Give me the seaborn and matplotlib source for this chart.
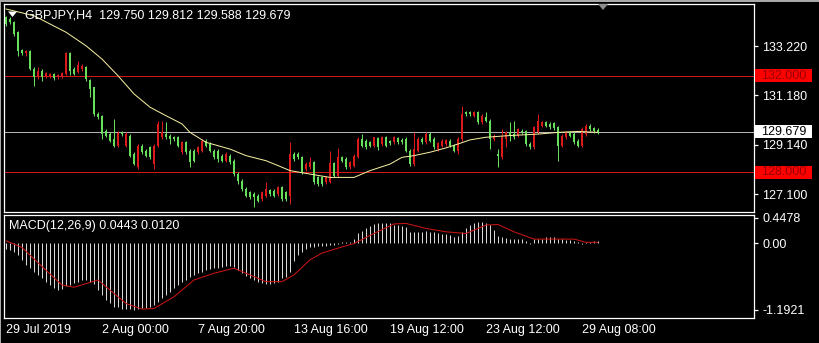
import matplotlib
matplotlib.use("Agg")
import matplotlib.pyplot as plt
import matplotlib.transforms as mtrans
from matplotlib.patches import Rectangle, Polygon
import numpy as np
import pandas as pd
import seaborn as sns

# ---------------- data ----------------
symbol_header = "GBPJPY,H4  129.750 129.812 129.588 129.679"
macd_header = "MACD(12,26,9) 0.0443 0.0120"

opens = [134.41,134.34,134.20,133.79,133.06,132.92,133.03,132.27,131.99,132.20,
         131.98,131.98,132.06,131.93,131.95,132.06,132.92,132.27,132.13,132.27,
         132.37,131.82,131.51,130.41,130.34,129.72,129.58,129.38,129.10,129.68,
         129.10,129.52,128.76,128.21,129.10,128.90,129.03,128.34,129.10,129.45,
         129.58,129.52,129.47,129.45,128.83,129.24,128.90,128.90,128.83,128.90,
         129.31,129.17,128.90,128.90,128.69,128.48,128.69,128.48,127.93,127.66,
         127.31,127.17,127.10,127.04,126.90,127.04,127.27,127.24,127.10,127.38,
         127.17,127.04,128.76,128.76,128.62,128.14,128.21,128.41,127.79,127.79,
         127.59,127.59,128.37,127.86,128.62,128.55,128.21,128.28,128.62,129.38,
         129.31,129.24,129.10,129.42,129.17,129.45,129.28,129.24,129.42,129.35,
         129.38,128.90,128.34,128.90,129.38,129.24,129.58,129.38,128.96,129.10,
         129.17,129.31,129.10,128.90,129.38,130.48,130.48,130.34,130.48,130.07,
         130.27,130.14,129.38,128.76,128.62,129.38,129.65,129.58,129.52,129.72,
         129.69,129.17,129.03,129.65,129.93,130.07,130.00,130.03,129.86,129.10,
         129.45,129.65,129.58,129.31,129.10,129.58,129.93,129.83,129.750]
highs = [134.47,134.41,134.27,133.85,133.10,133.07,133.06,132.34,132.37,132.27,
         132.13,132.12,132.12,132.06,132.15,132.96,132.96,132.34,132.59,132.48,
         132.41,131.86,131.54,130.48,130.38,129.79,129.65,130.20,129.72,129.72,
         129.65,129.58,128.83,129.17,129.17,128.96,129.10,129.17,130.14,130.14,
         130.07,129.58,129.52,129.52,129.31,129.31,128.96,128.96,129.10,129.38,
         129.38,129.24,128.96,128.96,128.76,128.83,128.76,128.55,128.00,127.73,
         127.38,127.24,127.17,127.10,127.24,127.59,127.31,127.31,127.45,127.45,
         127.24,129.24,128.83,128.83,128.69,128.41,128.62,128.48,127.86,127.86,
         127.86,128.90,128.41,129.01,128.69,128.62,128.48,128.76,129.45,129.58,
         129.38,129.31,129.47,129.47,129.52,129.52,129.34,129.52,129.47,129.41,
         129.45,128.96,129.65,129.45,129.45,129.65,129.65,129.45,129.24,129.38,
         129.38,129.38,129.17,129.45,130.76,130.55,130.55,130.55,130.55,130.41,
         130.48,130.20,129.58,128.96,129.79,129.72,130.07,130.14,129.83,129.79,
         129.75,129.24,129.93,130.41,130.14,130.14,130.07,130.07,129.93,129.58,
         129.72,129.72,129.65,129.38,129.86,130.00,130.00,129.89,129.812]
lows = [134.06,134.13,133.65,132.82,132.86,132.82,132.23,131.58,131.86,131.79,
        131.90,131.90,131.82,131.87,131.90,132.04,132.04,132.01,132.09,132.20,
        131.79,131.10,130.34,130.20,129.38,129.45,129.24,129.06,129.06,129.52,
        129.06,128.62,128.32,128.14,128.76,128.62,128.55,128.14,129.06,129.38,
        129.38,129.17,129.31,129.03,128.76,128.76,128.21,128.41,128.76,128.83,
        129.03,128.83,128.55,128.41,128.41,128.41,128.34,127.86,127.52,127.24,
        126.97,126.90,126.55,126.76,126.83,126.97,127.04,126.97,127.04,126.83,
        126.83,126.69,128.48,128.55,127.93,128.07,128.14,127.52,127.45,127.45,
        127.52,127.55,127.79,127.82,128.41,128.14,128.14,128.23,128.59,129.03,
        128.96,129.03,129.06,128.92,129.10,129.03,129.14,129.17,129.17,129.17,
        128.83,128.28,128.28,128.83,129.17,129.17,129.24,128.96,128.90,129.03,
        129.10,129.03,128.83,128.76,129.31,130.34,130.34,130.27,130.00,130.00,
        130.07,128.96,129.31,128.21,128.55,129.03,129.31,129.38,129.47,129.58,
        129.10,128.96,128.96,129.58,129.86,129.86,129.79,129.75,128.48,129.03,
        129.38,129.45,129.17,129.03,129.03,129.52,129.72,129.64,129.588]
closes = [134.13,134.20,133.72,133.03,132.92,133.03,132.27,131.93,132.20,131.93,
          132.09,132.06,131.90,132.02,132.09,132.92,132.20,132.06,132.45,132.41,
          131.86,131.44,130.41,130.27,129.58,129.52,129.31,129.10,129.61,129.58,
          129.58,128.69,128.34,129.10,128.83,128.69,128.62,129.10,130.00,129.65,
          129.45,129.38,129.38,129.10,129.24,128.83,128.41,128.48,129.03,129.31,
          129.10,128.90,128.62,128.55,128.48,128.76,128.41,127.93,127.66,127.31,
          127.04,126.97,126.97,126.83,127.17,127.31,127.10,127.04,127.38,126.90,
          126.90,128.76,128.55,128.62,128.00,128.34,128.41,127.59,127.52,127.52,
          127.79,128.37,127.86,128.62,128.48,128.21,128.41,128.69,129.38,129.10,
          129.03,129.10,129.45,129.03,129.45,129.10,129.20,129.45,129.24,129.24,
          128.90,128.34,128.96,129.38,129.24,129.58,129.31,129.03,129.20,129.31,
          129.34,129.10,128.90,129.38,130.41,130.41,130.41,130.48,130.07,130.34,
          130.14,129.38,129.52,128.69,129.45,129.65,129.52,129.45,129.79,129.65,
          129.17,129.03,129.86,130.14,130.07,129.93,129.86,129.83,129.10,129.52,
          129.65,129.52,129.24,129.10,129.79,129.93,129.79,129.69,129.679]

ma_idx = [0, 7, 15, 20, 24, 28, 32, 36, 40, 44, 46, 50, 56, 60, 65, 69, 71, 77, 81, 87,
          91, 96, 99, 102, 106, 110, 113, 116, 120, 126, 133, 138, 143, 148]
ma_val = [134.75, 134.47, 133.79, 133.23, 132.68, 131.99, 131.24, 130.69, 130.34, 130.00,
          129.65, 129.24, 128.96, 128.69, 128.48, 128.21, 128.07, 127.90, 127.79, 127.79,
          128.07, 128.34, 128.62, 128.69, 128.83, 129.01, 129.17, 129.34, 129.45, 129.52,
          129.58, 129.65, 129.69, 129.65]

macd_hist = [-0.10,-0.13,-0.16,-0.21,-0.30,-0.39,-0.45,-0.51,-0.57,-0.63,
             -0.69,-0.75,-0.81,-0.84,-0.83,-0.77,-0.75,-0.72,-0.69,-0.66,
             -0.66,-0.69,-0.73,-0.84,-0.93,-1.02,-1.08,-1.14,-1.15,-1.17,
             -1.17,-1.18,-1.19,-1.17,-1.16,-1.16,-1.14,-1.10,-1.05,-0.99,
             -0.93,-0.87,-0.81,-0.75,-0.69,-0.66,-0.60,-0.57,-0.54,-0.51,
             -0.49,-0.47,-0.45,-0.44,-0.42,-0.41,-0.41,-0.42,-0.48,-0.54,
             -0.59,-0.63,-0.66,-0.69,-0.72,-0.73,-0.73,-0.72,-0.69,-0.63,
             -0.60,-0.51,-0.33,-0.21,-0.16,-0.11,-0.08,-0.07,-0.06,-0.05,
             -0.05,-0.04,-0.03,-0.01,0.01,0.01,0.02,0.07,0.17,0.22,
             0.26,0.30,0.34,0.35,0.35,0.36,0.35,0.32,0.32,0.30,
             0.28,0.20,0.19,0.19,0.20,0.22,0.20,0.19,0.17,0.16,
             0.16,0.14,0.11,0.13,0.20,0.26,0.32,0.36,0.38,0.38,
             0.36,0.32,0.23,0.13,0.10,0.09,0.08,0.08,0.08,0.08,
             0.04,-0.01,0.07,0.08,0.08,0.10,0.11,0.10,0.08,0.07,
             0.05,0.05,0.04,0.01,-0.01,0.02,0.02,0.04,0.0443]

sig_idx = [0, 4, 9, 14, 17, 23, 26, 30, 34, 37, 42, 47, 52, 57, 60, 65, 69, 72, 76, 79,
           84, 87, 92, 97, 100, 105, 110, 115, 120, 123, 127, 132, 137, 142, 145, 148]
sig_val = [0.04, -0.08, -0.42, -0.75, -0.79, -0.66, -0.84, -1.08, -1.18, -1.17,
           -0.96, -0.66, -0.54, -0.45, -0.54, -0.69, -0.69, -0.57, -0.30, -0.18,
           -0.07, -0.01, 0.17, 0.34, 0.35, 0.26, 0.20, 0.17, 0.32, 0.33,
           0.20, 0.07, 0.07, 0.07, 0.012, 0.012]

price_ticks = [127.100, 129.140, 131.180, 133.220]
macd_ticks = [0.4478, 0.0, -1.1921]
macd_tick_labels = ["0.4478", "0.00", "-1.1921"]
date_tick_idx = [0, 24, 48, 72, 96, 120, 144]
date_labels = ["29 Jul 2019", "2 Aug 00:00", "7 Aug 20:00", "13 Aug 16:00",
               "19 Aug 12:00", "23 Aug 12:00", "29 Aug 08:00"]
level_lines = [132.000, 128.000]
last_price = 129.679

# ---------------- style ----------------
sns.set_style("dark", {"axes.facecolor": "black", "figure.facecolor": "black",
                       "axes.edgecolor": "white", "text.color": "white",
                       "xtick.color": "white", "ytick.color": "white",
                       "axes.grid": False})
plt.rcParams["font.family"] = ["Liberation Sans", "DejaVu Sans"]

UP = "#dc1a1a"      # rising candles drawn red
DOWN = "#66e05a"    # falling candles drawn green
PX = 0.72           # one pixel in points
W, H = 820, 343
fig = plt.figure(figsize=(W / 100, H / 100), dpi=100, facecolor="black")

def fy(py):
    return 1 - py / H

ax = fig.add_axes([4 / W, fy(211.5), 750 / W, (211.5 - 4) / H])
ax2 = fig.add_axes([4 / W, fy(317.5), 750 / W, (317.5 - 214.5) / H])
for a in (ax, ax2):
    a.set_facecolor("black")
    for s in a.spines.values():
        s.set_color("white")
        s.set_linewidth(0.9)
    a.set_xlim(-0.5, 187)

df = pd.DataFrame({"i": np.arange(len(closes)), "o": opens, "h": highs,
                   "l": lows, "c": closes})
df["up"] = df["c"] >= df["o"]
cols = np.where(df["up"], UP, DOWN)

# main panel
ax.set_ylim(126.381, 134.956)
for lv in level_lines:
    ax.axhline(lv, color="#d01818", lw=PX, zorder=1)
ax.axhline(last_price, color="#b4b4b4", lw=PX, zorder=1)
ax.vlines(df["i"], df["l"], df["h"], colors=cols, lw=PX, zorder=2)
body_low = np.minimum(df["o"], df["c"])
body_h = np.maximum((df["c"] - df["o"]).abs(), 0.045)
ax.bar(df["i"], body_h, bottom=body_low, width=0.72, color=cols,
       linewidth=0, zorder=3)
sns.lineplot(x=ma_idx, y=ma_val, ax=ax, color="#f6f0a0", lw=PX,
             estimator=None, zorder=4)
ax.set_xticks([])
ax.yaxis.tick_right()
ax.set_yticks(price_ticks)
ax.set_yticklabels([f"{v:.3f}" for v in price_ticks])
ax.tick_params(axis="y", colors="white", length=3, width=0.9, pad=3,
               labelsize=9, direction="out", left=False)
ax.set_xlabel("")
ax.set_ylabel("")

# MACD panel
ax2.set_ylim(-1.330, 0.509)
ax2.vlines(df["i"], 0, macd_hist, colors="#d8d8d8", lw=PX, zorder=2)
sns.lineplot(x=sig_idx, y=sig_val, ax=ax2, color="#d01414", lw=PX,
             estimator=None, zorder=3)
ax2.yaxis.tick_right()
ax2.set_yticks(macd_ticks)
ax2.set_yticklabels(macd_tick_labels)
ax2.set_xticks(date_tick_idx)
ax2.set_xticklabels(date_labels)
for lbl in ax2.get_xticklabels():
    lbl.set_horizontalalignment("left")
ax2.tick_params(axis="y", colors="white", length=3, width=0.9, pad=3,
                labelsize=9, direction="out", left=False)
ax2.tick_params(axis="x", colors="white", length=3, width=0.9, pad=1.5,
                labelsize=9, direction="out")
ax2.set_xlabel("")
ax2.set_ylabel("")

# price label boxes on the right
trans = mtrans.blended_transform_factory(fig.transFigure, ax.transData)
box_specs = [(132.000, "132.000", "#ff0000", "#9a0000"),
             (last_price, "129.679", "white", "black"),
             (128.000, "128.000", "#ff0000", "#9a0000")]
for val, txt, fc, tc in box_specs:
    fig.add_artist(Rectangle((755.5 / W, val - 0.28), 56.5 / W, 0.56,
                             transform=trans, fc=fc, ec="none"))
    fig.text(761 / W, val, txt, transform=trans, color=tc, fontsize=9,
             ha="left", va="center")

# headers
fig.add_artist(Polygon([[8 / W, fy(11.5)], [17 / W, fy(11.5)], [12.5 / W, fy(17)]],
                       closed=True, fc="white", ec="none", transform=fig.transFigure))
fig.text(25 / W, fy(15), symbol_header, color="white", fontsize=9,
         ha="left", va="center")
fig.add_artist(Polygon([[598 / W, fy(4)], [608 / W, fy(4)], [603 / W, fy(10)]],
                       closed=True, fc="#8c8c8c", ec="none", transform=fig.transFigure))
fig.text(9 / W, fy(225.5), macd_header, color="white", fontsize=9,
         ha="left", va="center")

# window frame
fig.add_artist(Rectangle((0, fy(1.5)), 1, 1.5 / H, fc="#a8a8a8", ec="none",
                         transform=fig.transFigure))
fig.add_artist(Rectangle((0, 0), 1.5 / W, 1, fc="#a8a8a8", ec="none",
                         transform=fig.transFigure))

fig.savefig("out.png", dpi=100, facecolor="black")
